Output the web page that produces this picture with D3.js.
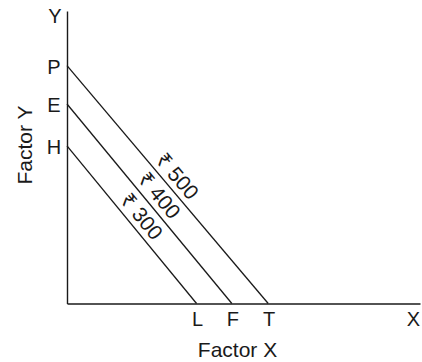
<!DOCTYPE html>
<html>
<head>
<meta charset="utf-8">
<script src="https://cdn.jsdelivr.net/npm/d3@7"></script>
<style>
  html, body { margin: 0; padding: 0; background: #fff; }
  svg { display: block; }
  text { font-family: "Liberation Sans", Arial, "Noto Sans", "DejaVu Sans", sans-serif; fill: #1a1a1a; }
</style>
</head>
<body>
<script>
// Isocost lines: total outlay in rupees, with the quantity of each factor it buys
const budgets = [300, 400, 500];
const xIntercepts = [3.67, 4.67, 5.70];   // Factor X bought if all spent on X
const yIntercepts = [5.39, 6.82, 8.13];   // Factor Y bought if all spent on Y
const xPointLabels = ["L", "F", "T"];
const yPointLabels = ["H", "E", "P"];
const xAxisTitle = "Factor X";
const yAxisTitle = "Factor Y";

const W = 422, H = 362;
const svg = d3.select("body").append("svg").attr("width", W).attr("height", H);

const x = d3.scaleLinear().domain([0, 10]).range([67, 420]);
const y = d3.scaleLinear().domain([0, 10]).range([303.5, 11]);

const ink = "#1a1a1a";

// axes as plain lines with no ticks
svg.append("g")
  .attr("transform", `translate(0,${y(0)})`)
  .call(d3.axisBottom(x).tickValues([]).tickSizeOuter(0))
  .call(g => g.select(".domain").attr("stroke", ink).attr("stroke-width", 1.4));
svg.append("g")
  .attr("transform", `translate(${x(0)},0)`)
  .call(d3.axisLeft(y).tickValues([]).tickSizeOuter(0))
  .call(g => g.select(".domain").attr("stroke", ink).attr("stroke-width", 1.4));

// axis end letters
svg.append("text").attr("x", 420).attr("y", 326)
  .attr("text-anchor", "end").attr("font-size", 20).text("X");
svg.append("text").attr("x", x(0) - 12).attr("y", 23)
  .attr("text-anchor", "middle").attr("font-size", 20).text("Y");

// axis titles
svg.append("text").attr("x", (x(0) + x(10)) / 2 - 6).attr("y", 357)
  .attr("text-anchor", "middle").attr("font-size", 21).text(xAxisTitle);
svg.append("text")
  .attr("transform", `translate(32,145) rotate(-90)`)
  .attr("text-anchor", "middle").attr("font-size", 21).text(yAxisTitle);

// isocost lines
const lines = budgets.map((b, i) => ({
  b, x0: x(0), y0: y(yIntercepts[i]), x1: x(xIntercepts[i]), y1: y(0),
  xl: xPointLabels[i], yl: yPointLabels[i], xi: xIntercepts[i], yi: yIntercepts[i]
}));

svg.append("g").selectAll("line").data(lines).join("line")
  .attr("x1", d => d.x0).attr("y1", d => d.y0)
  .attr("x2", d => d.x1).attr("y2", d => d.y1)
  .attr("stroke", ink).attr("stroke-width", 1.3);

// intercept letters
svg.append("g").selectAll("text").data(lines).join("text")
  .attr("x", x(0) - 13).attr("y", d => y(d.yi) + 8)
  .attr("text-anchor", "middle").attr("font-size", 20).text(d => d.yl);
svg.append("g").selectAll("text").data(lines).join("text")
  .attr("x", d => x(d.xi) + 1).attr("y", 326)
  .attr("text-anchor", "middle").attr("font-size", 20).text(d => d.xl);

// rupee labels along each line
svg.append("g").selectAll("text").data(lines).join("text")
  .attr("transform", d => {
    const dx = d.x1 - d.x0, dy = d.y1 - d.y0;
    const len = Math.hypot(dx, dy);
    const ux = dx / len, uy = dy / len;
    const nx = uy, ny = -ux;      // normal pointing up-right
    const cx = d.x0 + dx * 0.5 + nx * 13;
    const cy = d.y0 + dy * 0.5 + ny * 13;
    const ang = Math.atan2(dy, dx) * 180 / Math.PI;
    return `translate(${cx},${cy}) rotate(${ang})`;
  })
  .attr("text-anchor", "middle").attr("dy", "0.35em")
  .attr("font-size", 21).text(d => "\u20B9 " + d.b);
</script>
</body>
</html>
